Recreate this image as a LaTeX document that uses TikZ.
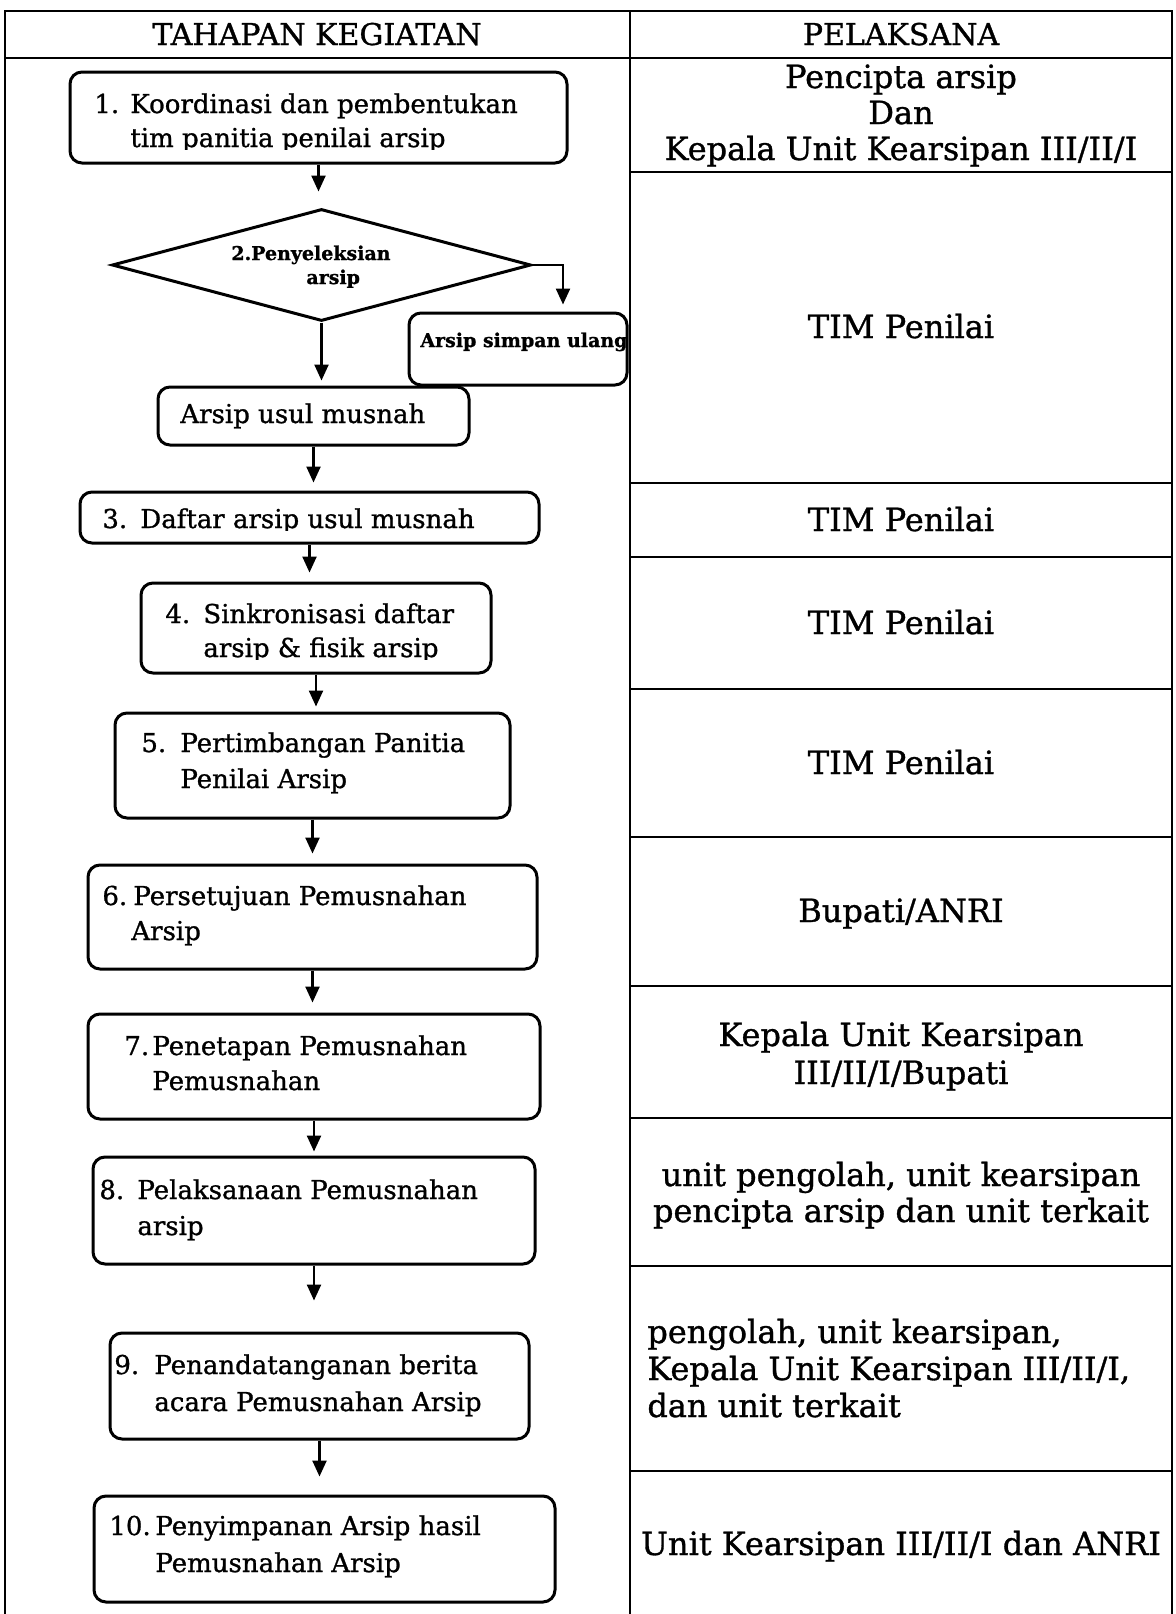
\documentclass[tikz,border=0pt]{standalone}
\usepackage{fontspec}
\setmainfont{DejaVu Serif}[FakeBold=1]
\usetikzlibrary{arrows.meta,shapes.geometric,fit}
\begin{document}
\begin{tikzpicture}[x=0.5pt,y=-0.5pt,
  tbl/.style={line width=1.2pt},
  box/.style={draw, rounded corners=6pt, line width=1.5pt, inner sep=0pt},
  arr/.style={-{Triangle[length=8pt,width=7pt]}, line width=1.2pt},
  lt/.style={anchor=base west, font=\fontsize{13}{15}\selectfont, inner sep=0pt},
  st/.style={anchor=base west, font=\bfseries\fontsize{9.5}{11}\selectfont, inner sep=0pt},
  rt/.style={anchor=base, font=\fontsize{16}{19}\selectfont, inner sep=0pt},
  rtl/.style={anchor=base west, font=\fontsize{16}{19}\selectfont, inner sep=0pt},
  ht/.style={anchor=base, font=\fontsize{15}{18}\selectfont, inner sep=0pt}]
\useasboundingbox (0,0) rectangle (1176,1614);
% table
\draw[tbl] (5,1614) -- (5,11) -- (1172,11) -- (1172,1614);
\draw[tbl] (630,11) -- (630,1614);
\draw[tbl] (5,58) -- (1172,58);
\foreach \yy in {172,483,557,689,837,986,1118,1266,1471}
  \draw[tbl] (630,\yy) -- (1172,\yy);
\node[ht] (h1) at (317,45) {TAHAPAN KEGIATAN};
\node[ht] (h2) at (901,45) {PELAKSANA};
% right column
\node[rt] (r1a) at (901,88) {Pencipta arsip};
\node[rt] (r1b) at (901,124) {Dan};
\node[rt] (r1c) at (901,160) {Kepala Unit Kearsipan III/II/I};
\node[rt] (r2) at (901,338) {TIM Penilai};
\node[rt] (r3) at (901,531) {TIM Penilai};
\node[rt] (r4) at (901,634) {TIM Penilai};
\node[rt] (r5) at (901,774) {TIM Penilai};
\node[rt] (r6) at (901,922) {Bupati/ANRI};
\node[rt] (r7a) at (901,1046) {Kepala Unit Kearsipan};
\node[rt] (r7b) at (901,1084) {III/II/I/Bupati};
\node[rt] (r8a) at (901,1186) {unit pengolah, unit kearsipan};
\node[rt] (r8b) at (901,1222) {pencipta arsip dan unit terkait};
\node[rtl] (r9a) at (647,1343) {pengolah, unit kearsipan,};
\node[rtl] (r9b) at (647,1380) {Kepala Unit Kearsipan III/II/I,};
\node[rtl] (r9c) at (647,1417) {dan unit terkait};
\node[rt] (r10) at (901,1555) {Unit Kearsipan III/II/I dan ANRI};
% boxes
\node[box, fit={(70,72) (567,163)}] (b1) {};
\node[draw, diamond, line width=1.5pt, inner sep=0pt, minimum width=209.5pt, minimum height=56pt] (dia) at (321.5,265) {};
\node[box, fit={(409,313) (627,385)}] (simp) {};
\node[box, fit={(158,387) (469,445)}] (usul) {};
\node[box, fit={(80,492) (539,543)}] (b3) {};
\node[box, fit={(141,583) (491,673)}] (b4) {};
\node[box, fit={(115,713) (510,818)}] (b5) {};
\node[box, fit={(88,865) (537,969)}] (b6) {};
\node[box, fit={(88,1014) (540,1119)}] (b7) {};
\node[box, fit={(93,1157) (535,1264)}] (b8) {};
\node[box, fit={(110,1333) (529,1439)}] (b9) {};
\node[box, fit={(94,1496) (555,1602)}] (b10) {};
% box texts
\begin{scope}
\clip (0,0) rectangle (1176,149);
\node[lt] (t1n) at (94,113) {1.};
\node[lt] (t1a) at (130,113) {Koordinasi dan pembentukan};
\node[lt] (t1b) at (130,147) {tim panitia penilai arsip};
\end{scope}
\node[st] (t2a) at (231,260) {2.Penyeleksian};
\begin{scope}
\clip (0,0) rectangle (1176,287);
\node[st] (t2b) at (306,284) {arsip};
\end{scope}
\node[st] (ts) at (420,347) {Arsip simpan ulang};
\node[lt] (tu) at (180,423) {Arsip usul musnah};
\begin{scope}
\clip (0,0) rectangle (1176,530);
\node[lt] (t3n) at (102,528) {3.};
\node[lt] (t3a) at (140,528) {Daftar arsip usul musnah};
\end{scope}
\node[lt] (t4n) at (165,623) {4.};
\node[lt] (t4a) at (203,623) {Sinkronisasi daftar};
\begin{scope}
\clip (0,0) rectangle (1176,659);
\node[lt] (t4b) at (203,657) {arsip \& fisik arsip};
\end{scope}
\node[lt] (t5n) at (141,752) {5.};
\node[lt] (t5a) at (180,752) {Pertimbangan Panitia};
\node[lt] (t5b) at (180,788) {Penilai Arsip};
\node[lt] (t6n) at (102,905) {6.};
\node[lt] (t6a) at (133,905) {Persetujuan Pemusnahan};
\node[lt] (t6b) at (131,940) {Arsip};
\node[lt] (t7n) at (124,1055) {7.};
\node[lt] (t7a) at (152,1055) {Penetapan Pemusnahan};
\node[lt] (t7b) at (152,1090) {Pemusnahan};
\node[lt] (t8n) at (99,1199) {8.};
\node[lt] (t8a) at (137,1199) {Pelaksanaan Pemusnahan};
\node[lt] (t8b) at (137,1235) {arsip};
\node[lt] (t9n) at (114,1374) {9.};
\node[lt] (t9a) at (154,1374) {Penandatanganan berita};
\node[lt] (t9b) at (154,1411) {acara Pemusnahan Arsip};
\node[lt] (t10n) at (109,1535) {10.};
\node[lt] (t10a) at (155,1535) {Penyimpanan Arsip hasil};
\node[lt] (t10b) at (155,1572) {Pemusnahan Arsip};
% arrows
\draw[arr, shorten >=8pt] (b1.south) -- (b1.south |- dia.north);
\draw[arr, shorten >=2.5pt] (dia.south) -- (dia.south |- usul.north);
\coordinate (brk) at (563,265);
\draw[arr, shorten >=3.5pt] (dia.east) -- (brk) -- (brk |- simp.north);
\draw[arr, shorten >=4pt] (usul.south) -- (usul.south |- b3.north);
\draw[arr, shorten >=4.5pt] (b3.south) -- (b3.south |- b4.north);
\draw[arr, shorten >=2.5pt] (b4.south) -- (b4.south |- b5.north);
\draw[arr, shorten >=5pt] (b5.south) -- (b5.south |- b6.north);
\draw[arr, shorten >=5pt] (b6.south) -- (b6.south |- b7.north);
\draw[arr, shorten >=2pt] (b7.south) -- (b7.south |- b8.north);
\draw[arr, shorten >=15.5pt] (b8.south) -- (b8.south |- b9.north);
\draw[arr, shorten >=9pt] (b9.south) -- (b9.south |- b10.north);
\end{tikzpicture}
\end{document}
